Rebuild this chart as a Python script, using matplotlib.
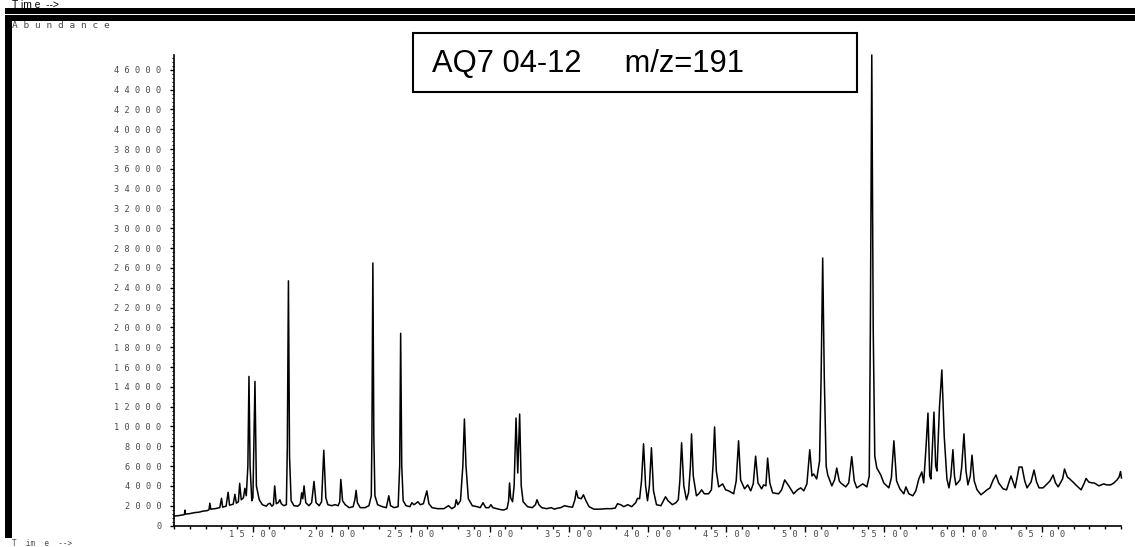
import matplotlib
matplotlib.use("Agg")
import matplotlib.pyplot as plt
from matplotlib.patches import Rectangle
from matplotlib.ticker import FixedLocator, MultipleLocator, FuncFormatter

# Total ion trace for m/z 191: retention time (min) and abundance
rt_min = [
    10.02, 10.3, 10.6, 10.66, 10.69, 10.72, 11.0, 11.3, 11.6, 11.83, 12.1, 12.22, 12.27, 12.33,
    12.6, 12.9, 13.01, 13.08, 13.3, 13.43, 13.52, 13.75, 13.86, 13.95, 14.08, 14.16, 14.26, 14.4,
    14.49, 14.58, 14.68, 14.75, 14.82, 14.93, 15.0, 15.13, 15.22, 15.3, 15.4, 15.6, 15.85, 15.95,
    16.08, 16.2, 16.3, 16.38, 16.48, 16.6, 16.71, 16.8, 16.95, 17.12, 17.18, 17.25, 17.32, 17.42,
    17.6, 17.85, 18.0, 18.09, 18.16, 18.24, 18.35, 18.55, 18.72, 18.87, 19.0, 19.2, 19.35, 19.49,
    19.62, 19.75, 20.0, 20.2, 20.4, 20.5, 20.57, 20.68, 20.85, 21.1, 21.35, 21.46, 21.54, 21.62,
    21.8, 22.1, 22.35, 22.5, 22.54, 22.6, 22.66, 22.73, 22.9, 23.2, 23.45, 23.61, 23.72, 23.95,
    24.2, 24.3, 24.36, 24.43, 24.52, 24.7, 24.95, 25.07, 25.2, 25.3, 25.45, 25.6, 25.8, 26.02,
    26.15, 26.35, 26.7, 27.1, 27.39, 27.6, 27.8, 27.88, 27.98, 28.15, 28.3, 28.4, 28.5, 28.65,
    28.9, 29.2, 29.4, 29.58, 29.75, 29.95, 30.08, 30.2, 30.45, 30.7, 30.88, 31.1, 31.2, 31.26,
    31.33, 31.45, 31.55, 31.67, 31.78, 31.9, 32.0, 32.12, 32.4, 32.7, 32.9, 33.0, 33.12, 33.3,
    33.6, 33.9, 34.1, 34.3, 34.5, 34.75, 35.0, 35.25, 35.4, 35.49, 35.6, 35.8, 35.94, 36.1,
    36.3, 36.6, 37.0, 37.4, 37.7, 37.95, 38.1, 38.3, 38.5, 38.75, 39.0, 39.25, 39.37, 39.5,
    39.62, 39.75, 39.88, 40.0, 40.12, 40.25, 40.38, 40.57, 40.85, 41.14, 41.3, 41.58, 41.8, 41.95,
    42.05, 42.16, 42.3, 42.47, 42.6, 42.72, 42.79, 42.9, 43.1, 43.25, 43.43, 43.6, 43.87, 44.05,
    44.15, 44.25, 44.36, 44.51, 44.76, 44.95, 45.14, 45.46, 45.62, 45.77, 45.9, 46.15, 46.35, 46.54,
    46.7, 46.85, 47.0, 47.23, 47.36, 47.5, 47.61, 47.75, 47.93, 48.31, 48.5, 48.69, 48.95, 49.26,
    49.5, 49.71, 49.9, 50.1, 50.28, 50.42, 50.53, 50.72, 50.9, 51.0, 51.1, 51.2, 51.32, 51.42,
    51.68, 51.85, 51.99, 52.15, 52.24, 52.56, 52.75, 52.94, 53.1, 53.26, 53.64, 53.9, 54.05, 54.12,
    54.21, 54.3, 54.4, 54.53, 54.78, 54.97, 55.29, 55.45, 55.61, 55.78, 55.99, 56.24, 56.37, 56.56,
    56.81, 57.0, 57.19, 57.38, 57.5, 57.65, 57.77, 57.88, 57.96, 58.05, 58.15, 58.26, 58.34, 58.5,
    58.65, 58.8, 58.97, 59.1, 59.22, 59.35, 59.45, 59.54, 59.8, 59.9, 60.05, 60.18, 60.3, 60.45,
    60.56, 60.7, 60.88, 61.13, 61.51, 61.7, 61.9, 62.08, 62.25, 62.53, 62.75, 63.03, 63.18, 63.29,
    63.45, 63.54, 63.73, 63.9, 64.05, 64.3, 64.49, 64.65, 64.81, 65.06, 65.32, 65.5, 65.7, 65.85,
    66.02, 66.3, 66.42, 66.6, 66.75, 66.95, 67.2, 67.47, 67.65, 67.79, 67.95, 68.15, 68.3, 68.6,
    68.9, 69.1, 69.35, 69.55, 69.75, 69.88, 69.97, 70.03,
]
abundance = [
    950, 1000, 1080, 1100, 1550, 1150, 1200, 1300, 1350, 1450, 1500, 1600, 2250, 1650,
    1700, 1800, 2750, 1850, 1950, 3350, 2050, 2150, 3150, 2250, 2400, 4250, 2600, 2800,
    3750, 3000, 6000, 15050, 6000, 2500, 2800, 14550, 4000, 3400, 2600, 2100, 1950, 2150,
    2250, 1950, 2100, 4000, 2200, 2300, 2600, 2200, 2000, 2100, 8000, 24700, 7000, 2500,
    2000, 1950, 2200, 3300, 2700, 4000, 2300, 2000, 2300, 4450, 2300, 2000, 2400, 7600,
    2800, 2100, 2000, 2100, 2000, 2400, 4650, 2500, 2100, 1800, 1900, 2600, 3550, 2300,
    1800, 1800, 2000, 3000, 9000, 26500, 9000, 3000, 2100, 1900, 1800, 3000, 2000, 1800,
    1900, 6000, 19400, 6000, 2500, 2000, 1900, 2300, 2100, 2200, 2400, 2100, 2200, 3500,
    2200, 1800, 1700, 1700, 2000, 1700, 1900, 2600, 2100, 2500, 6000, 10750, 6000, 2700,
    2000, 1900, 1800, 2300, 1800, 1800, 2100, 1800, 1700, 1600, 1560, 1700, 2500, 4300,
    2800, 2400, 4000, 10850, 5300, 11250, 4000, 2400, 1900, 1800, 2100, 2600, 2100, 1800,
    1700, 1800, 1650, 1750, 1800, 2000, 1900, 1850, 2600, 3500, 2800, 2700, 3100, 2500,
    1900, 1650, 1650, 1700, 1700, 1750, 2200, 2100, 1900, 2100, 1900, 2300, 2750, 2700,
    4500, 8250, 4000, 2500, 4000, 7850, 3500, 2100, 2000, 2900, 2500, 2100, 2300, 2600,
    4500, 8350, 4000, 2600, 3300, 6000, 9250, 5000, 3000, 3200, 3600, 3200, 3200, 3600,
    6000, 9950, 5500, 3900, 4200, 3600, 3500, 3200, 4500, 8550, 4600, 3700, 4100, 3500,
    4200, 7000, 4300, 3700, 4100, 4000, 6800, 4300, 3300, 3200, 3600, 4600, 4000, 3200,
    3600, 3800, 3500, 4200, 7650, 5000, 5200, 4700, 6500, 15000, 27000, 15000, 6000, 5100,
    4000, 4600, 5800, 4500, 4300, 3900, 4300, 6950, 4500, 3800, 4200, 3900, 5000, 20000,
    47500, 20000, 7000, 5800, 5100, 4300, 3800, 4800, 8550, 4500, 3700, 3200, 3900, 3200,
    3000, 3500, 4700, 5400, 4300, 8000, 11350, 5000, 4700, 8000, 11450, 6000, 5500, 12000,
    15700, 9000, 4700, 3800, 5000, 7650, 5000, 4100, 4600, 5800, 9250, 5500, 4100, 5000,
    7100, 4500, 3600, 3100, 3600, 3800, 4600, 5100, 4300, 3700, 3600, 5000, 4300, 3800,
    5100, 5900, 5900, 4500, 3800, 4400, 5600, 4400, 3800, 3800, 4200, 4500, 5100, 4300,
    3900, 4700, 5700, 4900, 4700, 4400, 4000, 3600, 4200, 4750, 4400, 4300, 4300, 4000,
    4200, 4100, 4100, 4300, 4600, 4900, 5450, 4800,
]

# Axis scales and tick positions
time_range = (10, 70)
abundance_range = (0, 47500)
time_ticks = [15, 20, 25, 30, 35, 40, 45, 50, 55, 60, 65]
abundance_ticks = list(range(0, 48000, 2000))

sample_label = "AQ7 04-12     m/z=191"

W, H = 1135, 547
fig = plt.figure(figsize=(W / 100, H / 100), dpi=100)
fig.patch.set_facecolor("white")


def fx(px):
    return px / W


def fy(py):
    return 1 - py / H


def px_rect(x0, y0, x1, y1, **kw):
    r = Rectangle((fx(x0), fy(y1)), fx(x1) - fx(x0), fy(y0) - fy(y1),
                  transform=fig.transFigure, **kw)
    fig.patches.append(r)
    return r


# Window frame: double bar across the top, bar down the left edge
px_rect(5, 8, W, 14.3, facecolor="black", edgecolor="none")
px_rect(5, 15.3, W, 20.7, facecolor="black", edgecolor="none")
px_rect(5, 15, 12, 538, facecolor="black", edgecolor="none")

label_gray = "#4a4a4a"
mono = "DejaVu Sans Mono"


def spaced(s):
    return " ".join(s)


fig.text(fx(12), fy(7.6), "T im e  -->", fontsize=7.4, family="Liberation Sans",
         va="baseline", ha="left", color="black")
fig.text(fx(12), fy(25), spaced("Abundance"), fontsize=6.8, family=mono,
         va="center", ha="left", color=label_gray)
fig.text(fx(12), fy(543), "T  im  e  -->", fontsize=5.5, family=mono,
         va="center", ha="left", color=label_gray)

ax = fig.add_axes([fx(174), fy(525.5), fx(1121) - fx(174), fy(55) - fy(525.5)])
ax.plot(rt_min, abundance, color="black", lw=1.1, solid_joinstyle="round", clip_on=False)
ax.set_xlim(*time_range)
ax.set_ylim(*abundance_range)

for side in ("top", "right"):
    ax.spines[side].set_visible(False)
for side in ("left", "bottom"):
    ax.spines[side].set_linewidth(1.2)

ax.xaxis.set_major_locator(FixedLocator(time_ticks))
ax.xaxis.set_minor_locator(MultipleLocator(1))
ax.yaxis.set_major_locator(FixedLocator(abundance_ticks))
ax.yaxis.set_minor_locator(MultipleLocator(400))

ax.xaxis.set_major_formatter(FuncFormatter(lambda v, p: spaced(f"{v:.2f}")))
ax.yaxis.set_major_formatter(FuncFormatter(lambda v, p: spaced(f"{int(v)}")))

ax.tick_params(axis="x", which="major", direction="out", length=4, width=1, pad=-1,
               labelsize=6.2, labelcolor=label_gray)
ax.tick_params(axis="x", which="minor", direction="out", length=2.5, width=1)
ax.tick_params(axis="y", which="major", direction="out", length=3, width=1, pad=6,
               labelsize=6.2, labelcolor=label_gray)
ax.tick_params(axis="y", which="minor", direction="out", length=1.5, width=0.8)
for lab in ax.get_xticklabels() + ax.get_yticklabels():
    lab.set_family(mono)

# Sample / ion annotation box
px_rect(413, 32.7, 857, 91.7, facecolor="white", edgecolor="black", lw=1.5, zorder=5)
fig.text(fx(432), fy(64), sample_label, fontsize=22.2, family="Liberation Sans",
         va="center", ha="left", color="black", zorder=6)

fig.savefig("out.png", dpi=100, facecolor="white")
